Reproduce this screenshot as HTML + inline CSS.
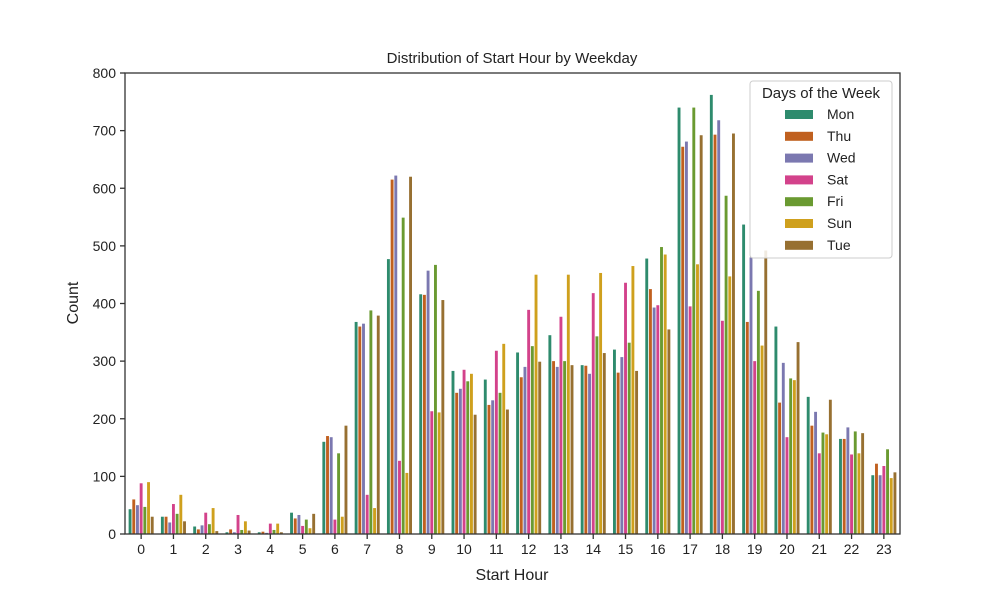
<!DOCTYPE html>
<html><head><meta charset="utf-8"><style>
body{margin:0;background:#fff;}
svg{display:block;font-family:"Liberation Sans","DejaVu Sans",sans-serif;}
</style></head><body>
<svg id="chart" width="1000" height="600">
<rect width="1000" height="600" fill="#fff"/>
<text x="512" y="63" text-anchor="middle" font-size="15" fill="#222">Distribution of Start Hour by Weekday</text>
<g id="bars"></g>
<g id="axes"></g>
<text x="512" y="580" text-anchor="middle" font-size="16" fill="#222">Start Hour</text>
<text transform="translate(78,303) rotate(-90)" text-anchor="middle" font-size="16" fill="#222">Count</text>
<g id="legend"></g>
</svg>
<script>
const hours = ["0","1","2","3","4","5","6","7","8","9","10","11","12","13","14","15","16","17","18","19","20","21","22","23"];
const days = ["Mon","Thu","Wed","Sat","Fri","Sun","Tue"];
const colors = ["#2e8b6d","#c0601f","#7b78b0","#d3428b","#6a9a31","#cfa01d","#977031"];
const mon = [43,30,13,3,3,37,160,368,477,416,283,268,315,345,293,320,478,740,762,537,360,238,165,102];
const thu = [60,30,8,8,4,27,170,360,615,415,245,224,272,300,292,280,425,672,693,368,228,188,165,122];
const wed = [50,20,15,3,2,33,168,365,622,457,252,232,290,290,278,307,393,681,718,480,297,212,185,102];
const sat = [88,52,37,33,18,14,25,68,127,213,285,318,389,377,418,436,397,395,370,300,168,140,138,118];
const fri = [47,35,17,7,7,25,140,388,549,467,265,245,326,300,343,332,498,740,587,422,270,176,178,147];
const sun = [90,68,45,22,18,10,30,45,106,211,278,330,450,450,453,465,485,468,447,327,267,173,140,97];
const tue = [30,22,5,6,3,35,188,379,620,406,207,216,299,293,314,283,355,692,695,492,333,233,175,107];
const series = [mon,thu,wed,sat,fri,sun,tue];
const yTicks = [0,100,200,300,400,500,600,700,800];

const L=125,R=900,T=73,B=534,yMax=800;
const step=(R-L)/hours.length;
const bw=step*0.8/days.length;
const y=v=>B-(v/yMax)*(B-T);
const xc=i=>L+step*(i+0.5);
const NS="http://www.w3.org/2000/svg";
function mk(tag,attrs,parent){const e=document.createElementNS(NS,tag);for(const k in attrs)e.setAttribute(k,attrs[k]);parent.appendChild(e);return e;}

const gb=document.getElementById('bars');
series.forEach((s,d)=>{
  s.forEach((v,i)=>{
    const x=xc(i)-step*0.4+d*bw;
    const r=mk('rect',{x:x+0.4,y:y(v),width:bw-0.8,height:B-y(v),fill:colors[d]},gb);
    
    
  });
});

const ga=document.getElementById('axes');
mk('rect',{x:L,y:T,width:R-L,height:B-T,fill:'none',stroke:'#333','stroke-width':1.3},ga);
yTicks.forEach(t=>{
  mk('line',{x1:L-5,x2:L,y1:y(t),y2:y(t),stroke:'#333','stroke-width':1.3},ga);
  const tx=mk('text',{x:L-9,y:y(t)+5,'text-anchor':'end','font-size':14,fill:'#222'},ga);
  tx.textContent=t;
  
  
});
hours.forEach((h,i)=>{
  mk('line',{x1:xc(i),x2:xc(i),y1:B,y2:B+5,stroke:'#333','stroke-width':1.3},ga);
  const tx=mk('text',{x:xc(i),y:B+20,'text-anchor':'middle','font-size':14,fill:'#222'},ga);
  tx.textContent=h;
  
  
});

const gl=document.getElementById('legend');
mk('rect',{x:750,y:81,width:142,height:177,rx:3,fill:'#fff','fill-opacity':0.85,stroke:'#ccc'},gl);
const lt=mk('text',{x:821,y:98,'text-anchor':'middle','font-size':15,fill:'#222'},gl);
lt.textContent='Days of the Week';


days.forEach((dname,d)=>{
  const yy=114+d*21.8;
  const g=mk('g',{},gl);
  
  
  mk('rect',{x:785,y:yy-4,width:28,height:9,fill:colors[d]},g);
  const t=mk('text',{x:827,y:yy+5,'font-size':14,fill:'#222'},g);
  t.textContent=dname;
});
</script>
</body></html>
